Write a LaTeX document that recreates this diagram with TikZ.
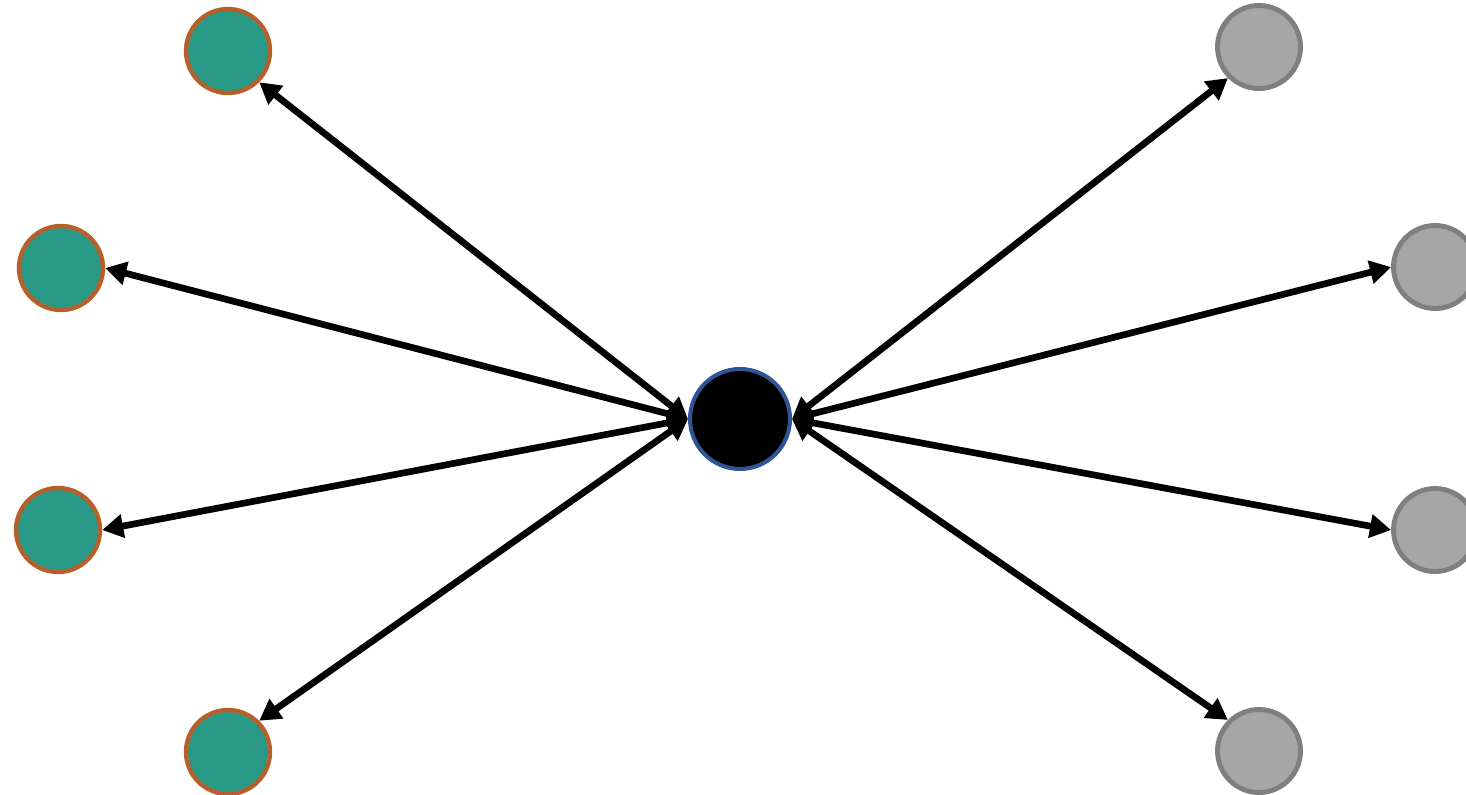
\documentclass[tikz,border=0pt]{standalone}
\usetikzlibrary{arrows.meta}
\definecolor{hubrim}{HTML}{2F5597}
\definecolor{tealfill}{HTML}{299987}
\definecolor{rustrim}{HTML}{B5602A}
\definecolor{greyfill}{HTML}{A6A6A6}
\definecolor{greyrim}{HTML}{7F7F7F}
\tikzset{
  hub/.style={circle, fill=black, draw=hubrim, line width=2.3pt, minimum size=2.0cm, inner sep=0pt},
  tealleaf/.style={circle, fill=tealfill, draw=rustrim, line width=2.5pt, minimum size=1.68cm, inner sep=0pt},
  greyleaf/.style={circle, fill=greyfill, draw=greyrim, line width=2.8pt, minimum size=1.66cm, inner sep=0pt},
  spoke/.style={line width=3.8pt, draw=black, {Triangle[length=12pt,width=13pt]}-{Triangle[length=12pt,width=13pt]}},
}
\begin{document}
\begin{tikzpicture}[x=0.02cm, y=-0.02cm]
\useasboundingbox (0,0) rectangle (1466,794);
\node[hub] (c) at (740,419) {};
\node[tealleaf] (l1) at (228,51) {};
\node[tealleaf] (l2) at (61,268) {};
\node[tealleaf] (l3) at (58,530) {};
\node[tealleaf] (l4) at (228,752) {};
\node[greyleaf] (r1) at (1259,47) {};
\node[greyleaf] (r2) at (1435,267) {};
\node[greyleaf] (r3) at (1435,530) {};
\node[greyleaf] (r4) at (1259,751) {};
\draw[spoke] (c.west) -- (l1.south east);
\draw[spoke] (c.west) -- (l2.east);
\draw[spoke] (c.west) -- (l3.east);
\draw[spoke] (c.west) -- (l4.north east);
\draw[spoke] (c.east) -- (r1.south west);
\draw[spoke] (c.east) -- (r2.west);
\draw[spoke] (c.east) -- (r3.west);
\draw[spoke] (c.east) -- (r4.north west);
\end{tikzpicture}
\end{document}
